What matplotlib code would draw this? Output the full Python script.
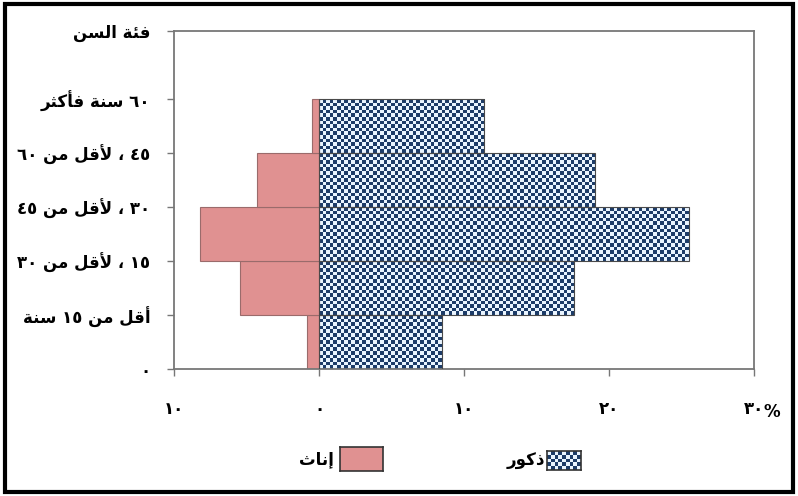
import unicodedata
import numpy as np
import matplotlib
matplotlib.use("Agg")
import matplotlib.pyplot as plt
from matplotlib.colors import ListedColormap
from matplotlib.patches import Rectangle

# age groups (lower edge of each 15-year band) and shares in %
age_lo = [0, 15, 30, 45, 60]
females = [0.8, 5.45, 8.2, 4.3, 0.5]
males = [8.5, 17.6, 25.5, 19.0, 11.4]

y_ticks = [0, 15, 30, 45, 60, 75, 94]
y_labels = ["٠", "أقل من ١٥ سنة", "١٥ ، لأقل من ٣٠", "٣٠ ، لأقل من ٤٥",
            "٤٥ ، لأقل من ٦٠", "٦٠ سنة فأكثر", "فئة السن"]
x_ticks = [-10, 0, 10, 20, 30]
x_labels = ["١٠", "٠", "١٠", "٢٠", "٣٠"]
legend_labels = ["إناث", "ذكور"]

PINK = "#e09191"
PINK_EDGE = "#9a6b6b"
NAVY = "#1d3c68"
LIGHT = "#eaf5ff"
SPINE = "#777777"


def ar_form(c, f):
    try:
        return unicodedata.lookup(unicodedata.name(c) + " " + f + " FORM")
    except (KeyError, ValueError):
        return None


def is_ar(c):
    return "\u0621" <= c <= "\u064A"


def dual(c):
    return is_ar(c) and ar_form(c, "INITIAL") is not None


def shape(text):
    """join arabic letters into presentation forms, then lay out right-to-left"""
    out = []
    i = 0
    while i < len(text):
        c = text[i]
        prev_joins = is_ar(c) and i > 0 and dual(text[i - 1])
        if c == "ل" and i + 1 < len(text) and text[i + 1] in "اأإآ":
            tail = unicodedata.name(text[i + 1])[len("ARABIC LETTER "):]
            f = "FINAL" if prev_joins else "ISOLATED"
            out.append(unicodedata.lookup("ARABIC LIGATURE LAM WITH " + tail + " " + f + " FORM"))
            i += 2
            continue
        if is_ar(c):
            next_joins = dual(c) and i + 1 < len(text) and is_ar(text[i + 1])
            if prev_joins and next_joins:
                f = "MEDIAL"
            elif prev_joins:
                f = "FINAL"
            elif next_joins:
                f = "INITIAL"
            else:
                f = "ISOLATED"
            out.append(ar_form(c, f) or c)
        else:
            out.append(c)
        i += 1
    # split into digit runs (kept left-to-right) and the rest (reversed)
    runs = []
    for ch in out:
        dig = "\u0660" <= ch <= "\u0669" or ch.isdigit()
        if runs and runs[-1][0] == dig:
            runs[-1][1].append(ch)
        else:
            runs.append([dig, [ch]])
    vis = ""
    for dig, chars in reversed(runs):
        vis += "".join(chars) if dig else "".join(reversed(chars))
    return vis


plt.rcParams["font.family"] = ["DejaVu Sans"]
plt.rcParams["font.weight"] = "bold"

fig = plt.figure(figsize=(7.98, 4.96), dpi=100)
ax = fig.add_axes([174 / 798, 1 - 369 / 496, 580 / 798, 338 / 496])

ax.set_xlim(-10, 30)
ax.set_ylim(0, 94)

ax.barh(age_lo, [-v for v in females], height=15, align="edge",
        color=PINK, edgecolor=PINK_EDGE, linewidth=0.8, zorder=2)
mbars = ax.barh(age_lo, males, height=15, align="edge",
                facecolor="none", edgecolor="#4a4a4a", linewidth=0.8, zorder=3)

# checkerboard fill for the males, clipped to each bar
cell = 3.6
xmax = max(males)
p0 = ax.transData.transform((0, 0))
p1 = ax.transData.transform((xmax, 75))
nx = int(round((p1[0] - p0[0]) / cell))
ny = int(round((p1[1] - p0[1]) / cell))
board = np.add.outer(np.arange(ny), np.arange(nx)) % 2
cmap = ListedColormap([LIGHT, NAVY])
for b in mbars:
    im = ax.imshow(board, cmap=cmap, extent=(0, xmax, 0, 75), origin="lower",
                   aspect="auto", interpolation="nearest", zorder=1)
    im.set_clip_path(b)

ax.set_xlim(-10, 30)
ax.set_ylim(0, 94)

ax.set_yticks(y_ticks)
ax.set_yticklabels([shape(s) for s in y_labels])
ax.set_xticks(x_ticks)
ax.set_xticklabels(x_labels)
ax.annotate("%", xy=(30, 0), xycoords="data", xytext=(13, -31),
            textcoords="offset points", ha="center", va="center",
            fontsize=12, fontweight="bold")

ax.tick_params(axis="y", direction="out", length=5, width=1, color=SPINE,
               pad=12, labelsize=12)
ax.tick_params(axis="x", direction="out", length=5, width=1, color=SPINE,
               pad=17, labelsize=12)
for s in ax.spines.values():
    s.set_color(SPINE)
    s.set_linewidth(1.3)

# legend, drawn right-to-left: text then swatch
W, H = 798.0, 496.0
fbox = fig.add_axes([340 / W, 1 - 471 / H, 43 / W, 24 / H])
fbox.set_facecolor(PINK)
mbox = fig.add_axes([547 / W, 1 - 470 / H, 34 / W, 19 / H])
leg_board = np.add.outer(np.arange(5), np.arange(9)) % 2
mbox.imshow(leg_board, cmap=cmap, aspect="auto", interpolation="nearest")
for bx in (fbox, mbox):
    bx.set_xticks([])
    bx.set_yticks([])
    for s in bx.spines.values():
        s.set_color("#333333")
        s.set_linewidth(1.2)
fig.text(334 / W, 1 - 459 / H, shape(legend_labels[0]), ha="right", va="center",
         fontsize=12, fontweight="bold")
fig.text(545 / W, 1 - 461 / H, shape(legend_labels[1]), ha="right", va="center",
         fontsize=12, fontweight="bold")

# outer black frame
fig.patches.append(Rectangle((5 / W, 4 / H), 788 / W, 488 / H, transform=fig.transFigure,
                             fill=False, edgecolor="black", linewidth=3, zorder=10))

fig.savefig("out.png", dpi=100)
